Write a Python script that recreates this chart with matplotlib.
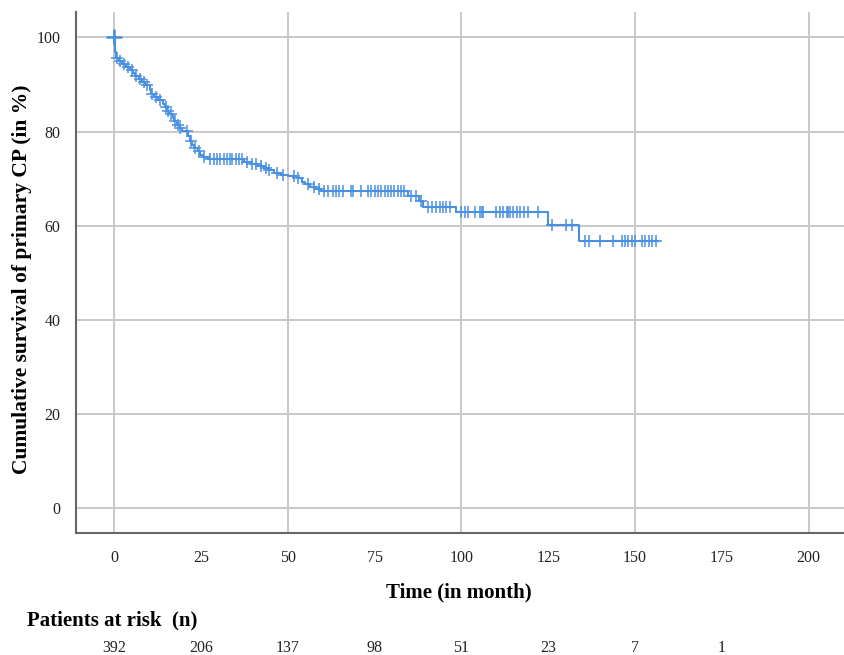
import numpy as np
import matplotlib
matplotlib.use("Agg")
import matplotlib.pyplot as plt
import matplotlib.transforms as mtransforms

plt.rcParams['font.family'] = ['Liberation Serif', 'DejaVu Serif']

# Kaplan-Meier step function: event times (months) and survival (%) after each event
event_t = [0, 0.3, 0.6, 1.5, 2.3, 3.3, 4.5, 5.5, 6.0, 7.0, 8.0, 9.0, 10.2, 10.6, 11.5,
           12.5, 14.0, 14.5, 15.3, 15.8, 16.8, 17.3, 18.2, 18.8, 19.5, 21.3, 21.8,
           22.3, 23.0, 24.0, 24.8, 25.5, 27.0, 37.5, 39.5, 41.5, 43.0, 44.2, 46.0,
           48.0, 50.0, 52.5, 54.0, 55.0, 56.5, 58.0, 59.5, 84.5, 87.8, 89.0, 98.5,
           125.0, 133.8, 156.5]
event_s = [100, 97.0, 95.6, 95.0, 94.4, 93.8, 93.1, 92.4, 91.8, 91.2, 90.6, 90.0, 88.9,
           87.9, 87.3, 86.7, 85.9, 85.2, 84.4, 83.7, 82.9, 82.2, 81.4, 80.7, 80.1, 79.0,
           78.0, 77.2, 76.5, 75.8, 75.1, 74.6, 74.1, 73.6, 73.1, 72.6, 72.2, 71.8, 71.3,
           70.8, 70.5, 70.1, 69.4, 68.8, 68.2, 67.8, 67.3, 66.4, 65.2, 64.1, 63.0, 60.2,
           56.8, 56.8]

# censored observations (time, survival level)
cens_t = [0.0, 0.8, 1.8, 2.7, 4.0, 5.1, 6.4, 7.5, 8.5, 9.5, 10.9, 11.9, 13.3, 14.8, 15.6,
          16.3, 17.6, 18.5, 19.0, 21.0, 22.0, 23.4, 24.4, 25.8, 27.7,
          28.7, 29.7, 30.6, 31.5, 32.6, 33.4, 34.0, 35.0, 35.9, 36.9,
          38.3, 39.8, 40.8, 42.2, 43.6, 44.6, 47.0, 48.5, 51.8, 52.8, 55.7, 57.6, 59.1,
          60.5, 61.5, 62.9, 63.9, 64.8, 65.8, 68.2, 68.7, 71.1, 73.0, 74.0, 75.0, 75.9,
          76.9, 77.9, 78.8, 79.8, 80.7, 81.7, 82.7, 83.6,
          85.5, 87.0, 88.4,
          90.4, 91.5, 92.8, 93.7, 94.7, 95.7, 96.6,
          100.0, 101.0, 102.0, 103.8, 105.3, 105.8, 106.2, 110.1, 111.1, 112.1, 113.0,
          113.5, 114.0, 115.0, 115.9, 116.9, 117.9, 119.3, 122.2,
          126.0, 130.0, 132.0,
          135.6, 136.8, 139.9, 143.7, 146.2, 147.2, 148.1, 149.1, 150.1, 152.0, 153.0,
          154.0, 155.0, 156.2]
cens_s = ([100, 95.6, 95.0, 94.4, 93.8, 93.1, 91.8, 91.2, 90.6, 90.0, 87.9, 87.3, 86.7,
           85.2, 84.4, 83.7, 82.2, 81.4, 80.7, 80.1, 78.0, 76.5, 75.8, 74.6, 74.1]
          + [74.1] * 10
          + [73.6, 73.1, 73.1, 72.6, 72.2, 71.8, 71.3, 70.8, 70.5, 70.1, 68.8, 68.2, 67.8]
          + [67.3] * 21
          + [66.4, 66.4, 65.2]
          + [64.1] * 7
          + [63.0] * 19
          + [60.2] * 3
          + [56.8] * 14)

risk_times = [0, 25, 50, 75, 100, 125, 150, 175]
risk_n = [392, 206, 137, 98, 51, 23, 7, 1]

blue = '#4a90e2'

fig = plt.figure(figsize=(8.45, 6.55), dpi=100)
ax = fig.add_axes([0.0896, 0.1863, 0.9104, 0.7954])

ax.step(event_t, event_s, where='post', color=blue, lw=1.5, zorder=3)
ax.plot(cens_t, cens_s, linestyle='none', marker='+', color=blue, ms=8, mew=1.3,
        alpha=0.85, zorder=4)
# bigger cross at the start, as in the original
ax.plot(cens_t[:1], cens_s[:1], linestyle='none', marker='+', color=blue, ms=11,
        mew=1.8, zorder=5)

ax.set_xlim(-11.1, 210.5)
ax.set_ylim(-5.2, 105.4)

ax.set_yticks(np.arange(0, 101, 20))
ax.set_xticks(np.arange(0, 201, 50))
ax.set_xticks(np.arange(25, 200, 50), minor=True)
ax.set_xticklabels([str(v) for v in range(0, 201, 50)])
ax.set_xticklabels([str(v) for v in range(25, 200, 50)], minor=True)
ax.tick_params(which='both', length=0, labelsize=11.5, labelcolor='#222222')
ax.tick_params(axis='x', which='both', pad=12)
ax.tick_params(axis='y', pad=11)

ax.grid(True, which='major', color='#c8c8c8', lw=1.4)
ax.set_axisbelow(True)
for s in ['top', 'right']:
    ax.spines[s].set_visible(False)
for s in ['left', 'bottom']:
    ax.spines[s].set_color('#666666')
    ax.spines[s].set_linewidth(1.5)

fig.text(0.543, 0.096, 'Time (in month)', ha='center', va='center',
         fontsize=15, fontweight='bold')
fig.text(0.026, 0.574, 'Cumulative survival of primary CP (in %)', rotation=90,
         ha='center', va='center', fontsize=15.5, fontweight='bold')
fig.text(0.032, 0.052, 'Patients at risk  (n)', ha='left', va='center',
         fontsize=15, fontweight='bold')

trans = mtransforms.blended_transform_factory(ax.transData, fig.transFigure)
for t, n in zip(risk_times, risk_n):
    ax.text(t, 0.004, str(n), transform=trans, ha='center', va='baseline',
            fontsize=11.5, color='#222222', clip_on=False)

fig.savefig('out.png', dpi=100)
